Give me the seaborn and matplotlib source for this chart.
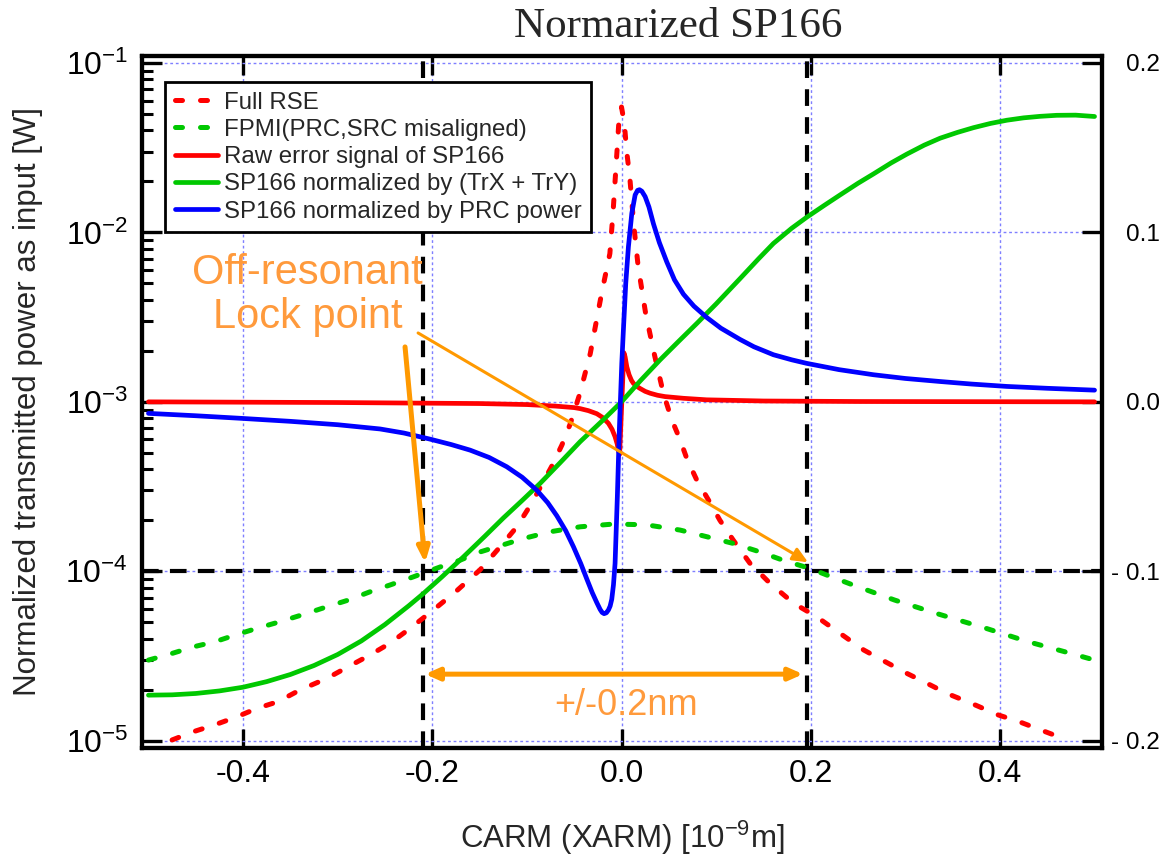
import matplotlib
matplotlib.use("Agg")
import numpy as np
import pandas as pd
import matplotlib.pyplot as plt
import seaborn as sns
from matplotlib.ticker import LogLocator, NullFormatter, LogFormatterSciNotation

# ---------------- data ----------------
# Full RSE (left log axis)
rse_x = [-0.475, -0.4525, -0.430, -0.407, -0.3855, -0.363, -0.340, -0.3115, -0.289, -0.266,
         -0.245, -0.2235, -0.199, -0.175, -0.1495, -0.128, -0.1106, -0.095, -0.074, -0.063,
         -0.054, -0.044, -0.033, -0.021, -0.0123, -0.0088, -0.0055, -0.003, 0.0, 0.003,
         0.0055, 0.0088, 0.013, 0.0176, 0.0255, 0.0345, 0.0443, 0.0532, 0.062, 0.069,
         0.0796, 0.092, 0.104, 0.118, 0.136, 0.157, 0.182, 0.206, 0.231, 0.256,
         0.279, 0.302, 0.323, 0.344, 0.370, 0.398, 0.421, 0.4425, 0.467]
rse_y = [1.01e-5, 1.13e-5, 1.24e-5, 1.38e-5, 1.55e-5, 1.70e-5, 1.99e-5, 2.33e-5, 2.73e-5, 3.20e-5,
         3.75e-5, 4.60e-5, 5.90e-5, 7.6e-5, 1.02e-4, 1.40e-4, 1.83e-4, 2.52e-4, 4.14e-4, 5.56e-4,
         7.46e-4, 1.12e-3, 1.93e-3, 4.38e-3, 7.5e-3, 1.35e-2, 2.6e-2, 4.3e-2, 5.5e-2, 4.4e-2,
         3.0e-2, 2.1e-2, 1.1e-2, 6.3e-3, 3.33e-3, 1.93e-3, 1.12e-3, 7.82e-4, 5.96e-4, 4.63e-4,
         3.45e-4, 2.63e-4, 2.00e-4, 1.53e-4, 1.11e-4, 8.49e-5, 6.47e-5, 5.40e-5, 4.3e-5, 3.43e-5,
         2.92e-5, 2.49e-5, 2.18e-5, 1.90e-5, 1.66e-5, 1.42e-5, 1.29e-5, 1.16e-5, 1.03e-5]

# FPMI (PRC, SRC misaligned) (left log axis)
fpmi_x = [-0.5, -0.4753, -0.4525, -0.4296, -0.4085, -0.3855, -0.3609, -0.3327, -0.3115, -0.2887,
          -0.2657, -0.2446, -0.220, -0.1917, -0.171, -0.1495, -0.1037, -0.0755, -0.0437, -0.0085,
          0.0264, 0.062, 0.090, 0.118, 0.1465, 0.171, 0.199, 0.217, 0.2446, 0.2887,
          0.3327, 0.3855, 0.4296, 0.4753, 0.5]
fpmi_y = [2.99e-5, 3.27e-5, 3.58e-5, 3.84e-5, 4.20e-5, 4.60e-5, 5.04e-5, 5.64e-5, 6.17e-5, 6.76e-5,
          7.57e-5, 8.30e-5, 9.27e-5, 1.06e-4, 1.16e-4, 1.30e-4, 1.56e-4, 1.71e-4, 1.83e-4, 1.90e-4,
          1.88e-4, 1.75e-4, 1.60e-4, 1.46e-4, 1.30e-4, 1.16e-4, 1.04e-4, 9.5e-5, 8.30e-5, 6.76e-5,
          5.64e-5, 4.60e-5, 3.84e-5, 3.27e-5, 2.99e-5]

# Raw error signal of SP166 (right linear axis)
raw_x = [-0.5, -0.3, -0.15, -0.1, -0.07, -0.05, -0.0437, -0.035, -0.0261, -0.02,
         -0.0138, -0.0100, -0.0068, -0.0045, -0.0033, -0.002, 0.0025, 0.0038, 0.0056, 0.008,
         0.0105, 0.0126, 0.0160, 0.0196, 0.025, 0.0302, 0.038, 0.046, 0.0654, 0.09,
         0.15, 0.25, 0.5]
raw_y = [0.0, -0.0004, -0.0010, -0.0016, -0.0025, -0.0034, -0.0040, -0.0052, -0.0070, -0.0092,
         -0.0127, -0.0162, -0.0206, -0.0250, -0.0285, -0.0310, 0.0290, 0.0266, 0.0207, 0.0160,
         0.0127, 0.0109, 0.0092, 0.0079, 0.0062, 0.0051, 0.0039, 0.0031, 0.0021, 0.0012,
         0.0005, 0.0002, 0.0]

# SP166 normalized by (TrX + TrY) (right linear axis)
trx_x = [-0.5, -0.475, -0.45, -0.425, -0.40, -0.375, -0.35, -0.325, -0.30, -0.275,
         -0.25, -0.225, -0.21, -0.19, -0.1671, -0.145, -0.1248, -0.105, -0.086, -0.065,
         -0.0437, -0.02, 0.0, 0.02, 0.0408, 0.06, 0.08, 0.1, 0.1254, 0.145,
         0.1606, 0.18, 0.1959, 0.215, 0.231, 0.25, 0.2663, 0.285, 0.3016, 0.32,
         0.3368, 0.355, 0.372, 0.39, 0.4073, 0.425, 0.4425, 0.46, 0.48, 0.5]
trx_y = [-0.1731, -0.1729, -0.1721, -0.1706, -0.1684, -0.1651, -0.1609, -0.1556, -0.1491, -0.1411,
         -0.1314, -0.1204, -0.1134, -0.1034, -0.0915, -0.0796, -0.0685, -0.0582, -0.0481, -0.0360,
         -0.0235, -0.0110, 0.0, 0.0125, 0.0248, 0.0355, 0.0465, 0.0578, 0.0728, 0.0845,
         0.0935, 0.1025, 0.1090, 0.1162, 0.1221, 0.1290, 0.1345, 0.1410, 0.1462, 0.1515,
         0.1556, 0.1590, 0.1618, 0.1643, 0.1662, 0.1676, 0.1685, 0.1691, 0.1692, 0.1684]

# SP166 normalized by PRC power (right linear axis)
prc_x = [-0.5, -0.45, -0.403, -0.35, -0.30, -0.2552, -0.23, -0.2024, -0.18, -0.16, -0.14,
         -0.1213, -0.105, -0.0896, -0.078, -0.0684, -0.059, -0.0508, -0.043, -0.0367, -0.031,
         -0.0261, -0.0226, -0.0205, -0.0184, -0.016, -0.0138, -0.012, -0.0103, -0.0085, -0.0068,
         -0.0044, -0.0023, 0.0003, 0.002, 0.0045, 0.0073, 0.0109, 0.0144, 0.017, 0.019,
         0.0215, 0.025, 0.029, 0.0338, 0.04, 0.0479, 0.056, 0.0655, 0.0765, 0.0901,
         0.105, 0.1254, 0.14, 0.1606, 0.18, 0.1959, 0.23, 0.2663, 0.30, 0.3368,
         0.37, 0.4073, 0.45, 0.5]
prc_y = [-0.0068, -0.0082, -0.0097, -0.0115, -0.0135, -0.0160, -0.0184, -0.0220, -0.0252, -0.0285, -0.0328,
         -0.0383, -0.0445, -0.0521, -0.0595, -0.0672, -0.0760, -0.0855, -0.0955, -0.1045, -0.1125,
         -0.1185, -0.1225, -0.1243, -0.1250, -0.1245, -0.1228, -0.1205, -0.1165, -0.1080, -0.0953,
         -0.0560, -0.0167, 0.0227, 0.0424, 0.0700, 0.0915, 0.1113, 0.1221, 0.1248, 0.1252,
         0.1243, 0.1211, 0.1150, 0.1050, 0.0940, 0.0825, 0.0720, 0.0635, 0.0565, 0.0498,
         0.0435, 0.0368, 0.0325, 0.0278, 0.0248, 0.0227, 0.0190, 0.0160, 0.0138, 0.0120,
         0.0105, 0.0091, 0.0080, 0.0069]

series_labels = ["Full RSE", "FPMI(PRC,SRC misaligned)", "Raw error signal of SP166",
                 "SP166 normalized by (TrX + TrY)", "SP166 normalized by PRC power"]

lock_x = [-0.21, 0.196]
lock_y = 1e-4

x_ticks = [-0.4, -0.2, 0.0, 0.2, 0.4]
x_ticklabels = ["-0.4", "-0.2", "0.0", "0.2", "0.4"]
r_ticks = [0.2, 0.1, 0.0, -0.1, -0.2]
r_ticklabels = ["0.2", "0.1", "0.0", "- 0.1", "- 0.2"]

# ---------------- style ----------------
sns.set_theme(style="ticks")
plt.rcParams["font.family"] = ["Liberation Sans", "DejaVu Sans"]
plt.rcParams["axes.unicode_minus"] = False
plt.rcParams["mathtext.fontset"] = "custom"
plt.rcParams["mathtext.rm"] = "Liberation Sans"
plt.rcParams["mathtext.it"] = "Liberation Sans:italic"
plt.rcParams["mathtext.bf"] = "Liberation Sans:bold"
plt.rcParams["mathtext.sf"] = "Liberation Sans"

RED = "#FF0000"
GREEN = "#00C800"
BLUE = "#0000FF"
ORANGE = "#FF9900"
ORANGE_TXT = "#FF9A3C"
GRID = "#7F7FFF"

fig = plt.figure(figsize=(11.67, 8.55), dpi=100)
ax = fig.add_axes([0.1217, 0.1255, 0.8223, 0.809])
ax2 = ax.twinx()

# grid
ax.set_yscale("log")
ax.grid(True, which="major", axis="both", color=GRID, lw=1.0, linestyle=(0, (2, 2)))
ax.grid(False, which="minor")
ax2.grid(False)

# reference dashed lines
for xv in lock_x:
    ax.axvline(xv, color="black", lw=3, linestyle=(0, (4, 2.7)), zorder=1.5)
ax.axhline(lock_y, color="black", lw=3, linestyle=(0, (4, 2.7)), zorder=1.5)

dot_style = dict(linestyle=(0, (1.4, 3.6)), dash_capstyle="round", lw=3.6)
sns.lineplot(x=rse_x, y=rse_y, ax=ax, color=RED, label=series_labels[0], errorbar=None, **dot_style)
sns.lineplot(x=fpmi_x, y=fpmi_y, ax=ax, color=GREEN, label=series_labels[1], errorbar=None, **dot_style)

solid_style = dict(lw=3.4, solid_capstyle="round", solid_joinstyle="round")
sns.lineplot(x=raw_x, y=raw_y, ax=ax2, color=RED, label=series_labels[2], errorbar=None, **solid_style)
sns.lineplot(x=trx_x, y=trx_y, ax=ax2, color=GREEN, label=series_labels[3], errorbar=None, **solid_style)
sns.lineplot(x=prc_x, y=prc_y, ax=ax2, color=BLUE, label=series_labels[4], errorbar=None, **solid_style)

for a in (ax, ax2):
    lg = a.get_legend()
    if lg is not None:
        lg.remove()

# limits
ax.set_xlim(-0.5068, 0.5075)
ax.set_ylim(9.09e-6, 0.110)
ax2.set_ylim(-0.2041, 0.2041)

# ticks
ax.set_xticks(x_ticks)
ax.set_xticklabels(x_ticklabels)
ax.yaxis.set_major_locator(LogLocator(base=10, numticks=10))
ax.yaxis.set_major_formatter(LogFormatterSciNotation())
ax.yaxis.set_minor_locator(LogLocator(base=10, subs=np.arange(2, 10), numticks=20))
ax.yaxis.set_minor_formatter(NullFormatter())
ax.set_xlabel("")
ax.set_ylabel("")
ax2.set_ylabel("")

ax.tick_params(axis="x", which="major", direction="in", length=14, width=2.4,
               bottom=True, top=True, labelsize=23, pad=8, colors="black")
ax.tick_params(axis="y", which="major", direction="in", length=14.4, width=2.4,
               left=True, right=False, labelsize=23, pad=10, colors="black")
ax.tick_params(axis="y", which="minor", direction="in", length=8, width=2.2,
               left=True, right=False, colors="black")

ax2.set_yticks(r_ticks)
ax2.set_yticklabels(r_ticklabels)
ax2.tick_params(axis="y", which="major", direction="in", length=14.4, width=2.4,
                right=True, left=False, labelsize=17.5, pad=42, colors="black")
ax2.tick_params(axis="y", which="minor", right=False, left=False)
for lab in ax2.get_yticklabels():
    lab.set_ha("right")

for a in (ax, ax2):
    for sp in a.spines.values():
        sp.set_visible(True)
        sp.set_color("black")
        sp.set_linewidth(3)

# legend
h1, l1 = ax.get_legend_handles_labels()
h2, l2 = ax2.get_legend_handles_labels()
leg = ax2.legend(h1 + h2, l1 + l2, loc="upper left", bbox_to_anchor=(0.024, 0.9624),
                 borderaxespad=0, fontsize=17.3, frameon=True, fancybox=False,
                 framealpha=1, edgecolor="black", handlelength=1.8, handletextpad=0.25,
                 labelspacing=0.22, borderpad=0.4)
leg.get_frame().set_linewidth(2)
leg.set_zorder(20)

# annotations (ax data coordinates, drawn above all curves)
ax2.annotate("", xy=(-0.2076, 1.12e-4), xytext=(-0.2288, 2.11e-3),
             xycoords=ax.transData, textcoords=ax.transData,
             arrowprops=dict(arrowstyle="-|>,head_length=0.45,head_width=0.18", color=ORANGE,
                             lw=3.6, mutation_scale=20, shrinkA=0, shrinkB=0), zorder=15)
ax2.annotate("", xy=(0.1972, 1.13e-4), xytext=(-0.215, 2.55e-3),
             xycoords=ax.transData, textcoords=ax.transData,
             arrowprops=dict(arrowstyle="-|>,head_length=0.45,head_width=0.2", color=ORANGE,
                             lw=2.2, mutation_scale=20, shrinkA=0, shrinkB=0), zorder=15)
ax2.annotate("", xy=(0.1919, 2.47e-5), xytext=(-0.2076, 2.47e-5),
             xycoords=ax.transData, textcoords=ax.transData,
             arrowprops=dict(arrowstyle="<|-|>,head_length=0.45,head_width=0.2", color=ORANGE,
                             lw=3.6, mutation_scale=18, shrinkA=0, shrinkB=0), zorder=15)
ax2.text(-0.332, 4.27e-3, "Off-resonant\nLock point", transform=ax.transData,
         ha="center", va="center", multialignment="center", fontsize=30,
         color=ORANGE_TXT, linespacing=1.15, zorder=16)
ax2.text(0.005, 1.62e-5, "+/-0.2nm", transform=ax.transData, ha="center", va="center",
         fontsize=26, color=ORANGE_TXT, zorder=16)

# titles / labels
fig.text(678 / 1167, 1 - 37 / 855, "Normarized SP166", ha="center", va="baseline",
         family="Liberation Serif", fontsize=31)
fig.text(622 / 1167, 1 - 848 / 855, r"CARM (XARM) [10$^{\mathdefault{-9}}$m]",
         ha="center", va="baseline", fontsize=22.5)
fig.text(28 / 1167, 1 - 402 / 855, "Normalized transmitted power as input [W]",
         ha="center", va="center", rotation=90, fontsize=22.5)

fig.savefig("out.png", dpi=100)
